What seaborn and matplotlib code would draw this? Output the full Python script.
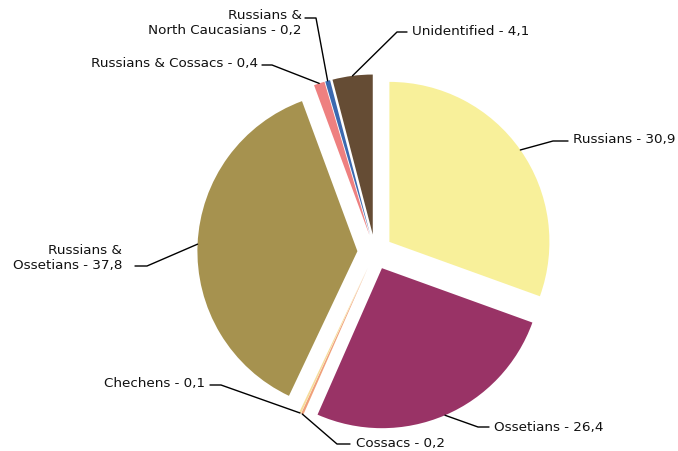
import matplotlib.pyplot as plt
import seaborn as sns
import numpy as np

sns.set_style("white")
plt.rcParams['font.family'] = ['DejaVu Sans']

# Data
groups = ["Russians", "Ossetians", "Cossacs", "Chechens", "Russians &\nOssetians",
          "Russians & Cossacs", "Russians &\nNorth Caucasians", "Unidentified"]
shares = [30.9, 26.4, 0.2, 0.1, 37.8, 0.4, 0.2, 4.1]
# slice sizes as drawn in the picture (tiny groups are shown a bit wider than their share)
drawn = [30.9, 26.4, 0.25, 0.2, 37.8, 1.1, 0.5, 4.1]
colors = ["#F8F09A", "#993366", "#F0A07A", "#F6DC9A", "#A6924F",
          "#EE8080", "#3B69B0", "#654C34"]

# label layout in pixels: (text x, text y, ha, elbow x, elbow y, line end x)
layout = [
    (573, 139, "left", 553, 141, 568),
    (494, 427, "left", 478, 427, 489),
    (356, 444, "left", 337, 444, 350),
    (205, 384, "right", 221, 385, 210),
    (122, 258, "right", 147, 266, 135),
    (258, 64, "right", 272, 65, 262),
    (302, 23, "right", 316, 18, 305),
    (412, 31, "left", 397, 32, 407),
]

W, H = 678, 451
cx, cy, rad = 375, 252, 160


def to_data(px, py):
    return (px - cx) / rad, (cy - py) / rad


fig = plt.figure(figsize=(W / 100, H / 100), dpi=100)
ax = fig.add_axes([0, 0, 1, 1])

wedges, _ = ax.pie(drawn, colors=colors, startangle=90, counterclock=False,
                   explode=[0.11] * len(drawn), radius=1,
                   wedgeprops=dict(linewidth=0))

for w, name, val, lay in zip(wedges, groups, shares, layout):
    tx, ty, ha, ex, ey, lx = lay
    ang = np.deg2rad((w.theta1 + w.theta2) / 2)
    px = w.center[0] + w.r * np.cos(ang)
    py = w.center[1] + w.r * np.sin(ang)
    elb = to_data(ex, ey)
    end = to_data(lx, ey)
    ax.plot([px, elb[0], end[0]], [py, elb[1], end[1]], color="black", lw=1)
    t = to_data(tx, ty)
    ax.text(t[0], t[1], f"{name} - {str(val).replace('.', ',')}", ha=ha, va="center",
            fontsize=9.7, color="#111111")

ax.set_xlim(-cx / rad, (W - cx) / rad)
ax.set_ylim(-(H - cy) / rad, cy / rad)
ax.set_aspect("equal")
ax.axis("off")

fig.savefig("out.png", dpi=100)
